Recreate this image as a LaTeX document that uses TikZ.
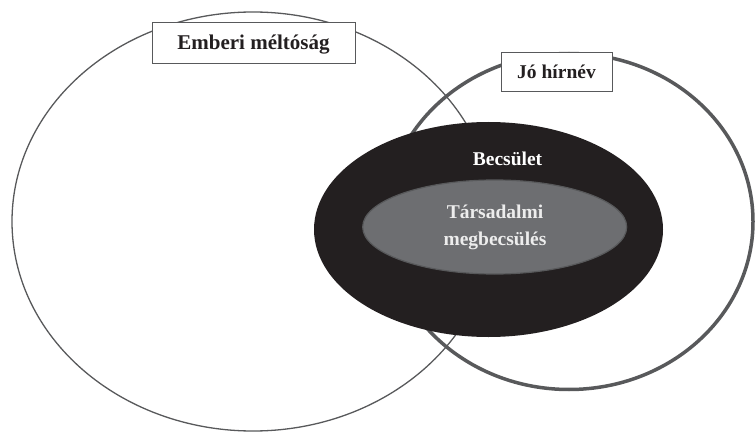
\documentclass[tikz,border=0pt]{standalone}
\usepackage{fontspec}
\setmainfont{Liberation Serif}
\usepackage{tikz}
\usetikzlibrary{positioning}
\definecolor{rimgray}{HTML}{58595B}
\definecolor{coreblack}{HTML}{231F20}
\definecolor{innergray}{HTML}{6D6E71}
\definecolor{paletext}{HTML}{EDEDED}

\begin{document}
\begin{tikzpicture}[x=1pt,y=-1pt,
    labelbox/.style={draw=rimgray, line width=0.9pt, fill=white, inner sep=0pt,
      text=coreblack, text height=13.5pt, text depth=0pt,
      font=\fontsize{19.5}{23}\selectfont\bfseries},
    inlabel/.style={inner sep=0pt, align=center,
      font=\fontsize{19.5}{27}\selectfont\bfseries}]
        \useasboundingbox (0,0) rectangle (755,433);

        % Human dignity (large left oval)
        \draw[rimgray, line width=1.3pt] (253,221.5) ellipse [x radius=241, y radius=209.5];

        % Reputation (right oval, heavier line)
        \draw[rimgray, line width=3.5pt] (569,221.5) ellipse [x radius=184, y radius=168];

        % Honour (black core)
        \fill[coreblack] (488.5,229.5) ellipse [x radius=174.5, y radius=107.5];

        % Social esteem (gray inner oval)
        \draw[rimgray, line width=1.2pt, fill=innergray] (494.7,227) ellipse [x radius=132, y radius=47];

        % Labels
        \node[labelbox, minimum width=203pt, minimum height=41pt,
          font=\fontsize{21}{24}\selectfont\bfseries] (dignity) at (253.5,42.5) {Emberi méltóság};
        \node[labelbox, minimum width=111pt, minimum height=39pt] (reputation) at (556.5,71.5) {Jó hírnév};
        \node[inlabel, text=white] (honour) at (507.5,159) {Becsület};
        \node[inlabel, text=paletext] (esteem) at (495,227) {Társadalmi\\megbecsülés};
    \end{tikzpicture}
\end{document}
